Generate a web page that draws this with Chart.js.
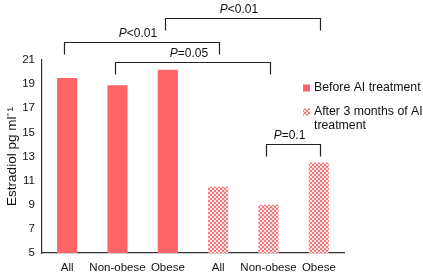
<!DOCTYPE html>
<html>
<head>
<meta charset="utf-8">
<script src="https://cdn.jsdelivr.net/npm/chart.js@4"></script>
<style>
  html, body { margin: 0; padding: 0; background: #fff; }
  #wrap { width: 423px; height: 274px; }
</style>
</head>
<body>
<div id="wrap"><canvas id="Estradiol"></canvas></div>
<script>
// Data block
const categories = ['All', 'Non-obese', 'Obese', 'All', 'Non-obese', 'Obese'];
const beforeValues = [19.5, 18.9, 20.2, null, null, null];
const afterValues = [null, null, null, 10.5, 9.0, 12.5];
const yTicks = [5, 7, 9, 11, 13, 15, 17, 19, 21];
const seriesNames = ['Before AI treatment', ['After 3 months of AI', 'treatment']];
// Significance brackets: from category, to category, bracket level (y units), label
const bracketFrom = [0, 2, 1, 4];
const bracketTo = [3, 5, 4, 5];
const bracketLevel = [22.5, 24.5, 20.8, 14.0];
const bracketLabel = ['<0.01', '<0.01', '=0.05', '=0.1'];

const solidRed = '#fe6566';
const FONT = 'Liberation Sans, Arial, sans-serif';

// Checkerboard fill for the "after" bars
function checkerPattern() {
    const c = document.createElement('canvas');
    c.width = 4; c.height = 4;
    const g = c.getContext('2d');
    g.fillStyle = '#fde3e3';
    g.fillRect(0, 0, 4, 4);
    g.fillStyle = '#f4797b';
    g.fillRect(0, 0, 2, 2);
    g.fillRect(2, 2, 2, 2);
    return g.createPattern(c, 'repeat');
}
const checker = checkerPattern();

// Brackets + legend plugin
const annotationsPlugin = {
    id: 'annotations',
    afterDraw(chart) {
        const ctx = chart.ctx;
        const x = chart.scales.x, y = chart.scales.y;
        ctx.save();
        ctx.strokeStyle = '#222';
        ctx.lineWidth = 1.2;
        ctx.fillStyle = '#111';
        for (let i = 0; i < bracketFrom.length; i++) {
            const x1 = Math.round(x.getPixelForValue(bracketFrom[i]) - 3) + 0.5;
            const x2 = Math.round(x.getPixelForValue(bracketTo[i]) + 1) + 0.5;
            const yb = Math.round(y.getPixelForValue(bracketLevel[i])) + 0.5;
            ctx.beginPath();
            ctx.moveTo(x1, yb + 12);
            ctx.lineTo(x1, yb);
            ctx.lineTo(x2, yb);
            ctx.lineTo(x2, yb + 12);
            ctx.stroke();
            // label: italic P + rest
            const cx = (x1 + x2) / 2 - 4;
            ctx.textBaseline = 'alphabetic';
            ctx.font = 'italic 12px ' + FONT;
            const wP = ctx.measureText('P').width;
            ctx.font = '12px ' + FONT;
            const wR = ctx.measureText(bracketLabel[i]).width;
            const sx = cx - (wP + wR) / 2;
            const ty = yb - 6;
            ctx.font = 'italic 12px ' + FONT;
            ctx.textAlign = 'left';
            ctx.fillText('P', sx, ty);
            ctx.font = '12px ' + FONT;
            ctx.fillText(bracketLabel[i], sx + wP, ty);
        }
        // legend
        const lx = 303, fills = [solidRed, checker], ly = [88, 112];
        ctx.font = '12.3px ' + FONT;
        ctx.textBaseline = 'middle';
        for (let i = 0; i < seriesNames.length; i++) {
            ctx.fillStyle = fills[i];
            ctx.fillRect(lx, ly[i] - 3.5, 7, 7);
            ctx.fillStyle = '#111';
            const lines = Array.isArray(seriesNames[i]) ? seriesNames[i] : [seriesNames[i]];
            lines.forEach((t, k) => ctx.fillText(t, lx + 11, ly[i] + k * 14));
        }
        ctx.restore();
    }
};

// Config block
const estradiolConfig = {
    type: 'bar',
    data: {
        labels: categories,
        datasets: [{
            label: 'Before AI treatment',
            data: beforeValues,
            backgroundColor: solidRed,
            grouped: false,
        }, {
            label: 'After 3 months of AI treatment',
            data: afterValues,
            backgroundColor: checker,
            grouped: false,
        }]
    },
    options: {
        responsive: true,
        maintainAspectRatio: false,
        animation: false,
        categoryPercentage: 1,
        barPercentage: 0.4,
        layout: { padding: { top: 60, right: 79, left: 4, bottom: 0 } },
        plugins: {
            legend: { display: false },
            tooltip: { enabled: false }
        },
        scales: {
            x: {
                afterFit(scale) { scale.height = 21; },
                grid: { display: false, drawTicks: false },
                border: { color: '#333', width: 1.2 },
                ticks: { color: '#111', font: { family: FONT, size: 11.5 }, padding: 8, maxRotation: 0, autoSkip: false }
            },
            y: {
                min: 5,
                max: 21,
                afterFit(scale) { scale.width = 38; },
                afterBuildTicks(scale) { scale.ticks = yTicks.map(v => ({ value: v })); },
                grid: { display: false, drawTicks: false },
                border: { color: '#333', width: 1.2 },
                ticks: { color: '#111', font: { family: FONT, size: 11.5 }, padding: 7 },
                title: {
                    display: true,
                    text: 'Estradiol pg ml\u207B\u00B9',
                    color: '#111',
                    font: { family: FONT, size: 13.5 },
                    padding: { top: 0, bottom: 2 }
                }
            }
        }
    },
    plugins: [annotationsPlugin]
};

const estradiolChart = new Chart(document.getElementById('Estradiol'), estradiolConfig);
</script>
</body>
</html>
